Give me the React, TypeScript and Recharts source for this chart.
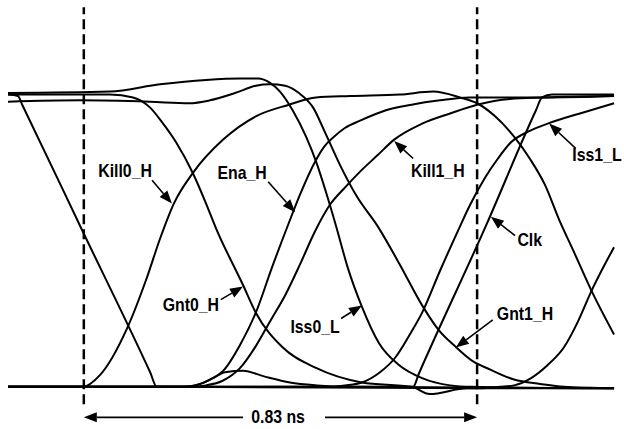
import { LineChart, Line, XAxis, YAxis, ReferenceLine, ReferenceDot } from "recharts";

// time in ps, level in volts
const kill0H = [
  [0, -0.01], [141, -0.01], [158, -0.01], [194, 0.07], [251, 0.39], [293, 0.74], [321, 1.01],
  [350, 1.25], [390, 1.46], [454, 1.69], [523, 1.85], [593, 1.93], [650, 1.98], [722, 1.99],
  [827, 2.0], [897, 2.02], [954, 1.98], [990, 1.94], [1028, 1.85], [1068, 1.71], [1101, 1.56],
  [1133, 1.38], [1163, 1.14], [1194, 0.92], [1230, 0.66], [1279, 0.35],
];
const gnt0H = [
  [0, 2.0], [215, 2.0], [264, 1.98], [300, 1.91], [325, 1.81], [355, 1.67], [390, 1.46],
  [418, 1.25], [439, 1.08], [496, 0.69], [523, 0.5], [580, 0.26], [650, 0.12], [747, 0.02],
  [852, -0.01], [890, -0.06], [969, -0.02], [1279, -0.02],
];
const enaH = [
  [0, -0.01], [363, -0.01], [395, 0.0], [426, 0.04], [454, 0.1], [490, 0.28], [523, 0.5],
  [557, 0.81], [593, 1.12], [616, 1.31], [650, 1.55], [667, 1.64], [688, 1.71], [711, 1.77],
  [743, 1.82], [796, 1.89], [852, 1.93], [912, 1.96], [973, 1.98], [1131, 1.98], [1279, 1.99],
];
const kill1H = [
  [0, -0.01], [384, -0.01], [418, 0.0], [452, 0.03], [490, 0.12], [523, 0.27], [553, 0.44],
  [585, 0.62], [616, 0.83], [648, 1.06], [679, 1.24], [711, 1.36], [743, 1.47], [779, 1.58],
  [815, 1.69], [874, 1.8], [933, 1.87], [990, 1.93], [1059, 1.97], [1131, 1.98], [1279, 1.99],
];
const iss0L = [
  [0, 2.01], [215, 2.02], [321, 2.07], [418, 2.1], [490, 2.11], [528, 2.11], [553, 2.08],
  [574, 2.02], [601, 1.89], [629, 1.71], [650, 1.54], [671, 1.33], [692, 1.1], [717, 0.81],
  [747, 0.54], [783, 0.29], [825, 0.14], [874, 0.05], [933, 0.0], [979, -0.01], [1279, -0.02],
];
const gnt1H = [
  [0, 1.95], [152, 1.96], [300, 1.95], [382, 1.94], [426, 1.96], [479, 2.01], [523, 2.06],
  [553, 2.07], [585, 2.06], [614, 2.01], [644, 1.91], [669, 1.74], [700, 1.52], [736, 1.3],
  [779, 1.1], [827, 0.83], [874, 0.55], [909, 0.38], [943, 0.27], [979, 0.17], [1017, 0.11],
  [1068, 0.04], [1123, 0.01], [1173, -0.01], [1279, -0.02],
];
const iss1L = [
  [0, -0.01], [679, -0.01], [711, 0.0], [747, 0.02], [785, 0.09], [817, 0.19], [848, 0.35],
  [874, 0.5], [912, 0.79], [952, 1.08], [975, 1.24], [1007, 1.43], [1034, 1.56], [1061, 1.67],
  [1101, 1.75], [1139, 1.8], [1207, 1.87], [1279, 1.94],
];
const clk = [
  [0, -0.01], [855, -0.01], [867, 0.08], [1009, 1.1], [1114, 1.89], [1127, 1.98], [1148, 2.0],
  [1279, 2.0],
];
const prevEdge = [
  [0, 2.0], [21, 1.99], [30, 1.93], [156, 1.07], [300, 0.09], [314, -0.01], [330, -0.01],
  [996, -0.02], [1038, -0.01], [1068, 0.0], [1104, 0.05], [1139, 0.14], [1173, 0.26],
  [1203, 0.44], [1230, 0.64], [1256, 0.81], [1279, 0.95],
];
const glitch = [
  [0, -0.01], [373, -0.01], [405, 0.01], [433, 0.05], [458, 0.09], [496, 0.1], [542, 0.06],
  [595, 0.02], [652, 0.0], [722, -0.01], [1279, -0.02],
];

const cursorsPs = [160, 990];

// label centre, arrow tail, arrow tip
const callouts: [string, number[], number[], number[]][] = [
  ["Kill0_H", [247, 1.47], [304, 1.41], [346, 1.25]],
  ["Ena_H", [494, 1.46], [549, 1.4], [606, 1.19]],
  ["Kill1_H", [907, 1.47], [855, 1.56], [815, 1.68]],
  ["Iss1_L", [1243, 1.58], [1198, 1.63], [1142, 1.8]],
  ["Clk", [1101, 1.0], [1070, 1.03], [1019, 1.16]],
  ["Gnt1_H", [1091, 0.49], [1023, 0.45], [945, 0.26]],
  ["Iss0_L", [648, 0.4], [703, 0.46], [747, 0.55]],
  ["Gnt0_H", [386, 0.55], [449, 0.59], [496, 0.68]],
];

const spanLabel = "0.83 ns";
const spanLevel = -0.22;

const traces = [kill0H, gnt0H, enaH, kill1H, iss0L, gnt1H, iss1L, clk, prevEdge, glitch];

const FONT = "'Liberation Sans', Arial, sans-serif";

const toPoints = (a: number[][]) => a.map(([t, v]) => ({ t, v }));

function Arrow(props: any) {
  const { x1, y1, x2, y2 } = props;
  const dx = x2 - x1;
  const dy = y2 - y1;
  const len = Math.hypot(dx, dy) || 1;
  const ux = dx / len;
  const uy = dy / len;
  const head = 13;
  const half = 5;
  const bx = x2 - ux * head;
  const by = y2 - uy * head;
  return (
    <g>
      <line x1={x1} y1={y1} x2={bx} y2={by} stroke="#000" strokeWidth={1.6} />
      <polygon
        points={`${x2},${y2} ${bx - uy * half},${by + ux * half} ${bx + uy * half},${by - ux * half}`}
        fill="#000"
      />
    </g>
  );
}

// condensed bold label, like the scope printout
function NarrowText(props: any) {
  const vb = props.viewBox || {};
  const cx = (vb.x ?? vb.cx ?? 0) + (vb.width ?? 0) / 2;
  const cy = (vb.y ?? vb.cy ?? 0) + (vb.height ?? 0) / 2;
  return (
    <text
      transform={`translate(${cx},${cy}) scale(0.88,1)`}
      textAnchor="middle"
      dominantBaseline="central"
      fontFamily={FONT}
      fontWeight={700}
      fontSize={18}
      fill="#000"
    >
      {props.text}
    </text>
  );
}

export default function App() {
  return (
    <div style={{ position: "absolute", left: 0, top: 0, width: 624, height: 429, background: "#fff" }}>
      <LineChart width={624} height={429} margin={{ top: 0, right: 0, bottom: 0, left: 8 }}>
        <XAxis type="number" dataKey="t" domain={[0, 1300]} hide allowDataOverflow />
        <YAxis type="number" dataKey="v" domain={[-0.3, 2.65]} hide allowDataOverflow />
        {traces.map((tr, i) => (
          <Line
            key={i}
            data={toPoints(tr)}
            dataKey="v"
            type="monotone"
            stroke="#000"
            strokeWidth={2}
            dot={false}
            activeDot={false}
            isAnimationActive={false}
          />
        ))}
        {cursorsPs.map((t) => (
          <ReferenceLine
            key={t}
            segment={[{ x: t, y: -0.13 }, { x: t, y: 2.6 }]}
            stroke="#000"
            strokeWidth={2.5}
            strokeDasharray="10 5"
          />
        ))}
        {callouts.map(([name, , tail, tip]) => (
          <ReferenceLine
            key={name + "-arrow"}
            segment={[{ x: tail[0], y: tail[1] }, { x: tip[0], y: tip[1] }]}
            shape={Arrow}
          />
        ))}
        {callouts.map(([name, at]) => (
          <ReferenceDot
            key={name}
            x={at[0]}
            y={at[1]}
            r={0}
            stroke="none"
            fill="none"
            label={<NarrowText text={name} />}
          />
        ))}
        <ReferenceLine segment={[{ x: 496, y: spanLevel }, { x: cursorsPs[0], y: spanLevel }]} shape={Arrow} />
        <ReferenceLine segment={[{ x: 669, y: spanLevel }, { x: cursorsPs[1], y: spanLevel }]} shape={Arrow} />
        <ReferenceDot
          x={(cursorsPs[0] + cursorsPs[1]) / 2 - 5}
          y={spanLevel}
          r={0}
          stroke="none"
          fill="none"
          label={<NarrowText text={spanLabel} />}
        />
      </LineChart>
    </div>
  );
}
